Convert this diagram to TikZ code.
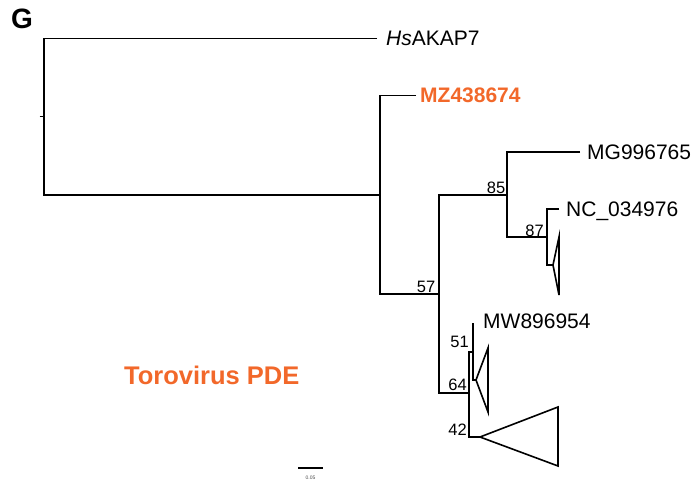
\documentclass[tikz,border=0pt]{standalone}
\usepackage{fontspec}
\setmainfont{Liberation Sans}
\definecolor{toro}{RGB}{242,104,42}
\begin{document}
\begin{tikzpicture}[x=1pt,y=-1pt,
  br/.style={line width=1.8pt, line join=miter},
  tri/.style={line width=1.6pt, line join=miter},
  leaf/.style={anchor=west, inner sep=0pt, text depth=0pt, font=\fontsize{21}{24}\selectfont},
  boot/.style={anchor=south east, inner sep=0pt, font=\fontsize{16.5}{18}\selectfont}]
\useasboundingbox (0,0) rectangle (697,484);
% internal nodes
\coordinate (R) at (44,116.5);
\coordinate (A) at (380,195);
\coordinate (B) at (439,294);
\coordinate (C) at (507,195);
\coordinate (D) at (547,237);
\coordinate (E) at (469,393);
\coordinate (F) at (473,352);
\coordinate (Rt) at (39.5,116.5);
% leaves
\node[leaf] (hs) at (386,38.5) {\textit{Hs}AKAP7};
\node[leaf, font=\fontsize{21}{24}\selectfont\bfseries, text=toro] (mz) at (420,95.5) {MZ438674};
\node[leaf] (mg) at (587,152) {MG996765};
\node[leaf] (nc) at (566,209) {NC\_034976};
\node[leaf] (mw) at (483,321.5) {MW896954};
\coordinate (mwE) at (473,323);
% collapsed clades
\coordinate (t1) at (553,265);
\coordinate (t2) at (476,380);
\coordinate (t3) at (480,437);
\draw[tri] (t1) -- (559,237) -- (559,295) -- cycle;
\draw[tri] (t2) -- (488,348) -- (488,412) -- cycle;
\draw[tri] (t3) -- (558,407) -- (558,466) -- cycle;
% branches
\draw[br] (Rt) -- (R);
\draw[br] ([xshift=-9pt]hs.west) -| (R) |- (A);
\draw[br] ([xshift=-4pt]mz.west) -| (A) |- (B);
\draw[br] (C) -| (B) |- (E);
\draw[br] ([xshift=-7pt]mg.west) -| (C) |- (D);
\draw[br] ([xshift=-7pt]nc.west) -| (D) |- (t1);
\draw[br] (mwE) -- (F) |- (t2);
\draw[br] (F) -| (E) |- (t3);
% bootstrap values
\node[boot] (b57) at (435.5,293) {57};
\node[boot] (b85) at (505.5,194) {85};
\node[boot] (b87) at (544,236.5) {87};
\node[boot] (b51) at (469,347.5) {51};
\node[boot] (b64) at (467,391) {64};
\node[boot] (b42) at (467,435.5) {42};
% scale bar
\coordinate (s1) at (298,468);
\coordinate (s2) at (323,468);
\draw[line width=1.2pt] (s1) -- (s2);
\node[inner sep=0pt, font=\fontsize{5}{6}\selectfont, text=black!70] (sl) at (310.5,477.5) {0.05};
% titles
\node[anchor=base west, inner sep=0pt, font=\fontsize{28}{30}\selectfont\bfseries] (G) at (11,29) {G};
\node[anchor=base west, inner sep=0pt, font=\fontsize{25.5}{28}\selectfont\bfseries, text=toro] (tp) at (124,384.5) {Torovirus PDE};
\end{tikzpicture}
\end{document}
